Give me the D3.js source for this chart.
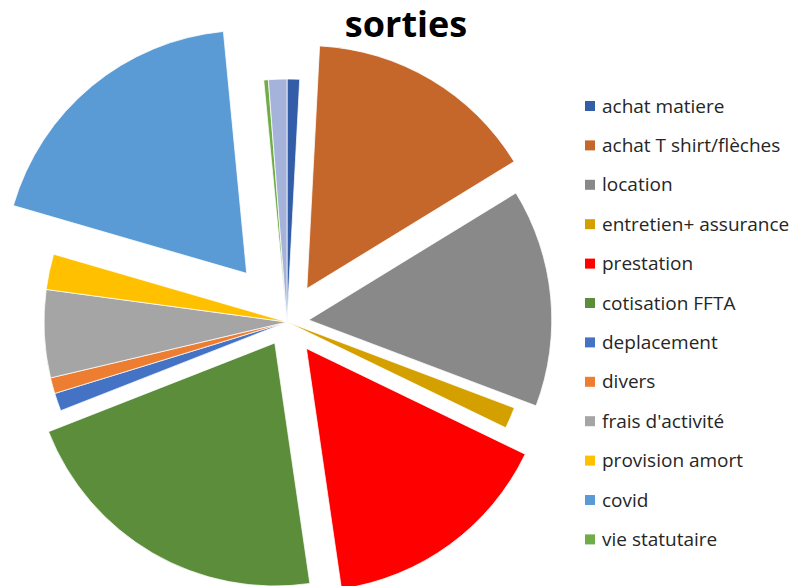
<!DOCTYPE html>
<html>
<head>
<meta charset="utf-8">
<script src="https://cdn.jsdelivr.net/npm/d3@7"></script>
<style>
  body { margin: 0; background: #fff; }
  svg { display: block; }
</style>
</head>
<body>
<svg id="chart" width="797" height="586"></svg>
<script>
// sorties (euros)
const categories = [
  "achat matiere", "achat T shirt/flèches", "location", "entretien+ assurance",
  "prestation", "cotisation FFTA", "deplacement", "divers", "frais d'activité",
  "provision amort", "covid", "vie statutaire", ""
];
const values = [60, 1110, 1044, 102, 1118, 1538, 86, 76, 420, 170, 1366, 22, 88];
const colors = [
  "#335DA6", "#C5672A", "#898989", "#D4A000", "#FF0000", "#5B8D3A",
  "#4472C4", "#ED7D31", "#A5A5A5", "#FFC000", "#5B9BD5", "#70AD47", "#A5B3DA"
];
// point explosion, as a share of the radius
const explode = [0, 0.16, 0.09, 0, 0.135, 0.10, 0, 0, 0, 0, 0.26, 0, 0];

const svg = d3.select( "#chart" );
const CX = 287;
const CY = 322;
const R = 243;

const data = categories.map( ( name, i ) => ( { name, value: values[i], i } ) );

const pie = d3.pie().sort( null ).value( d => d.value );
const arc = d3.arc().innerRadius( 0 ).outerRadius( R );

svg.append( "g" )
  .attr( "transform", `translate(${CX},${CY})` )
  .selectAll( "path" )
  .data( pie( data ) )
  .enter()
  .append( "path" )
  .attr( "d", arc )
  .attr( "fill", d => colors[d.data.i] )
  .attr( "stroke", "#fff" )
  .attr( "stroke-width", 0.75 )
  .attr( "transform", d => {
    const mid = ( d.startAngle + d.endAngle ) / 2;
    const off = explode[d.data.i] * R;
    return `translate(${off * Math.sin( mid )},${-off * Math.cos( mid )})`;
  } );

svg.append( "text" )
  .attr( "x", 406 )
  .attr( "y", 37 )
  .attr( "text-anchor", "middle" )
  .style( "font-family", "'Open Sans', sans-serif" )
  .style( "font-weight", "bold" )
  .style( "font-size", "36px" )
  .text( "sorties" );

// legend (the unnamed last point has no entry)
const legend = svg.append( "g" )
  .selectAll( "g" )
  .data( data.filter( d => d.name !== "" ) )
  .enter()
  .append( "g" )
  .attr( "transform", ( d, i ) => `translate(585,${106 + i * 39.4})` );

legend.append( "rect" )
  .attr( "x", 0 )
  .attr( "y", -5 )
  .attr( "width", 10 )
  .attr( "height", 10 )
  .attr( "fill", d => colors[d.i] );

legend.append( "text" )
  .attr( "x", 17 )
  .attr( "y", 6.5 )
  .style( "font-family", "'Open Sans', sans-serif" )
  .style( "font-size", "19px" )
  .style( "fill", "#262626" )
  .text( d => d.name );
</script>
</body>
</html>
